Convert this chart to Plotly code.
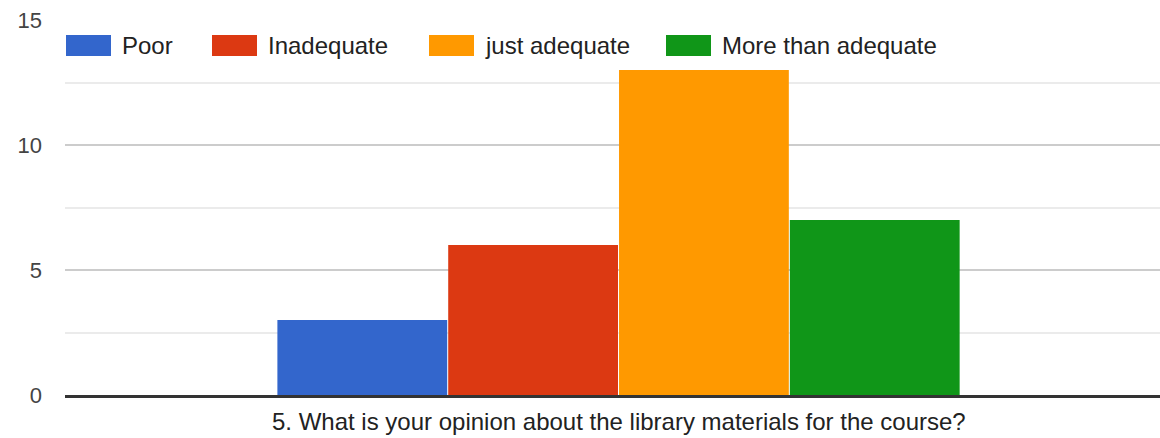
import plotly.graph_objects as go

question = '5. What is your opinion about the library materials for the course?'
options = ['Poor', 'Inadequate', 'just adequate', 'More than adequate']
counts = [3, 6, 13, 7]
colors = ['#3366cc', '#dc3912', '#ff9900', '#109618']
y_ticks = [0, 5, 10, 15]

font = 'Arial, Liberation Sans, sans-serif'

fig = go.Figure()

for name, val, col in zip(options, counts, colors):
    fig.add_trace(go.Bar(
        x=[question], y=[val], name=name,
        marker=dict(color=col, line=dict(width=0)),
        showlegend=False
    ))

# legend drawn by hand, google forms style wide swatches
legend_x = [66, 212, 429, 666]
shapes = []
annotations = []
for lx, name, col in zip(legend_x, options, colors):
    shapes.append(dict(type='rect', xref='paper', yref='paper',
                       x0=(lx - 65) / 1095, x1=(lx - 65 + 45) / 1095,
                       y0=(394 - 56) / 374, y1=(394 - 35) / 374,
                       fillcolor=col, line=dict(width=0), layer='above'))
    annotations.append(dict(text=name, xref='paper', yref='paper',
                            x=(lx - 65 + 54) / 1095, y=(394 - 45.5) / 374,
                            xanchor='left', yanchor='middle', showarrow=False,
                            font=dict(size=24, color='#222222', family=font)))

annotations.append(dict(text=question, xref='paper', yref='paper',
                        x=(618.5 - 65) / 1095, y=0, yanchor='top', yshift=-11,
                        showarrow=False,
                        font=dict(size=24, color='#222222', family=font)))

fig.update_layout(
    width=1160, height=438,
    margin=dict(l=65, r=0, t=20, b=43),
    plot_bgcolor='white', paper_bgcolor='white',
    barmode='group', bargap=0.376, bargroupgap=0.006,
    font=dict(family=font, size=22, color='#444444'),
    shapes=shapes, annotations=annotations,
    xaxis=dict(showticklabels=False, showgrid=False, zeroline=False,
               showline=True, linecolor='#333333', linewidth=3,
               automargin=False, range=[-0.5055, 0.4945]),
    yaxis=dict(range=[0, 15], tickvals=y_ticks, showline=False,
               gridcolor='#cccccc', gridwidth=2, zeroline=False,
               ticks='', ticklabelstandoff=22, automargin=False,
               minor=dict(dtick=2.5, showgrid=True, gridcolor='#ebebeb',
                          gridwidth=2)),
)

# drop the page's default body margin so the chart sits at 0,0
fig.write_html('out.html', config={'displayModeBar': False},
               post_script="document.body.style.margin='0';")
